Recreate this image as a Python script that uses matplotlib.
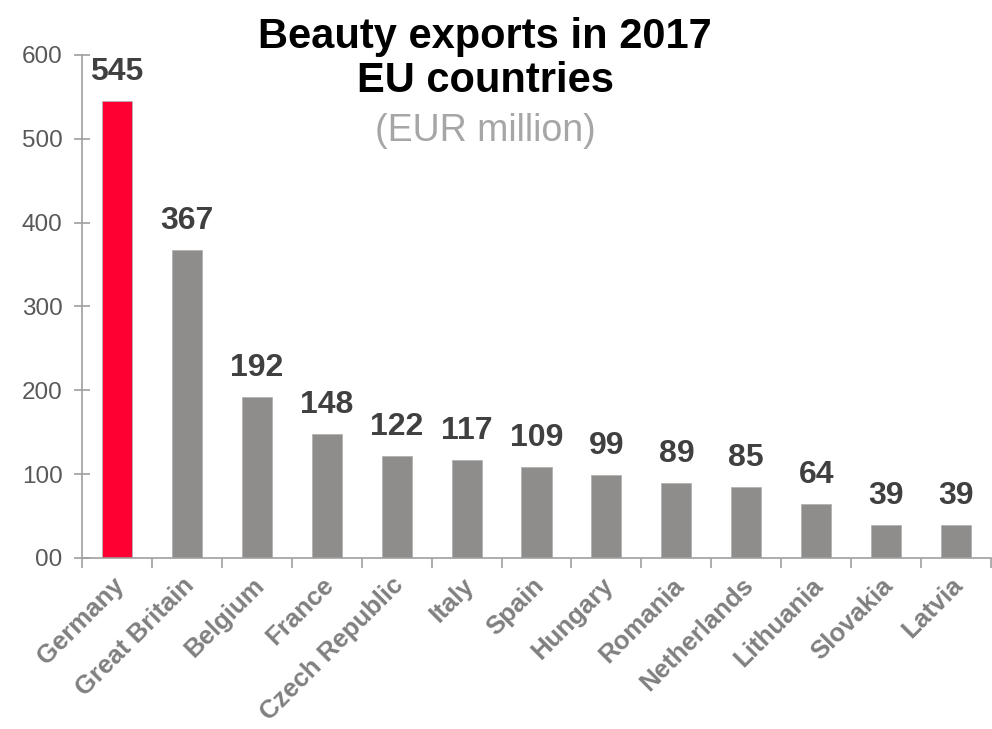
import numpy as np
import matplotlib.pyplot as plt
import matplotlib.transforms as mtransforms

# Beauty exports 2017, EUR million
countries = ["Germany", "Great Britain", "Belgium", "France", "Czech Republic",
             "Italy", "Spain", "Hungary", "Romania", "Netherlands",
             "Lithuania", "Slovakia", "Latvia"]
exports = [545, 367, 192, 148, 122, 117, 109, 99, 89, 85, 64, 39, 39]
highlight = "Germany"

y_ticks = [0, 100, 200, 300, 400, 500, 600]
y_tick_labels = ["00", "100", "200", "300", "400", "500", "600"]

plt.rcParams['font.family'] = ['Liberation Sans', 'DejaVu Sans']

fig = plt.figure(figsize=(9.92, 7.29), dpi=100)
ax = fig.add_axes([0.0827, 0.2346, 0.9163, 0.69])

x = np.arange(len(countries))
colors = ['#ff0033' if c == highlight else '#8f8d8b' for c in countries]
bars = ax.bar(x, exports, width=0.43, color=colors, edgecolor='#b5b3b1',
              linewidth=0.6, zorder=2)

# value labels above bars
for xi, v in zip(x, exports):
    ax.annotate(str(v), (xi, v), xytext=(0, 10), textcoords='offset points',
                ha='center', va='bottom', fontsize=23, fontweight='bold',
                color='#404040')

ax.set_xlim(-0.5, len(countries) - 0.5)
ax.set_ylim(0, 600)

ax.set_yticks(y_ticks)
ax.set_yticklabels(y_tick_labels, fontsize=17.5, color='#595959')
ax.tick_params(axis='y', direction='inout', length=12, width=1.2,
               color='#a0a0a0', pad=8)

# category ticks sit between bars, labels at bar centres
ax.set_xticks(np.arange(len(countries) + 1) - 0.5)
ax.set_xticklabels([])
ax.tick_params(axis='x', which='major', direction='out', length=7,
               width=1.2, color='#a0a0a0')
ax.set_xticks(x, minor=True)
ax.set_xticklabels(countries, minor=True, rotation=45, ha='right',
                   rotation_mode='anchor', fontsize=18.5, fontweight='bold',
                   color='#808080')
ax.tick_params(axis='x', which='minor', length=0, pad=11)
shift = mtransforms.ScaledTranslation(-5 / 100, 0, fig.dpi_scale_trans)
for lbl in ax.get_xticklabels(minor=True):
    lbl.set_transform(lbl.get_transform() + shift)

for side in ['top', 'right']:
    ax.spines[side].set_visible(False)
for side in ['left', 'bottom']:
    ax.spines[side].set_color('#a0a0a0')
    ax.spines[side].set_linewidth(1.2)

fig.text(0.489, 0.976, "Beauty exports in 2017\nEU countries", ha='center',
         va='top', fontsize=30, fontweight='bold', color='black',
         linespacing=1.1)
fig.text(0.489, 0.806, "(EUR million)", ha='center', va='baseline',
         fontsize=27, color='#a6a6a6')

fig.savefig("out.png", dpi=100)
